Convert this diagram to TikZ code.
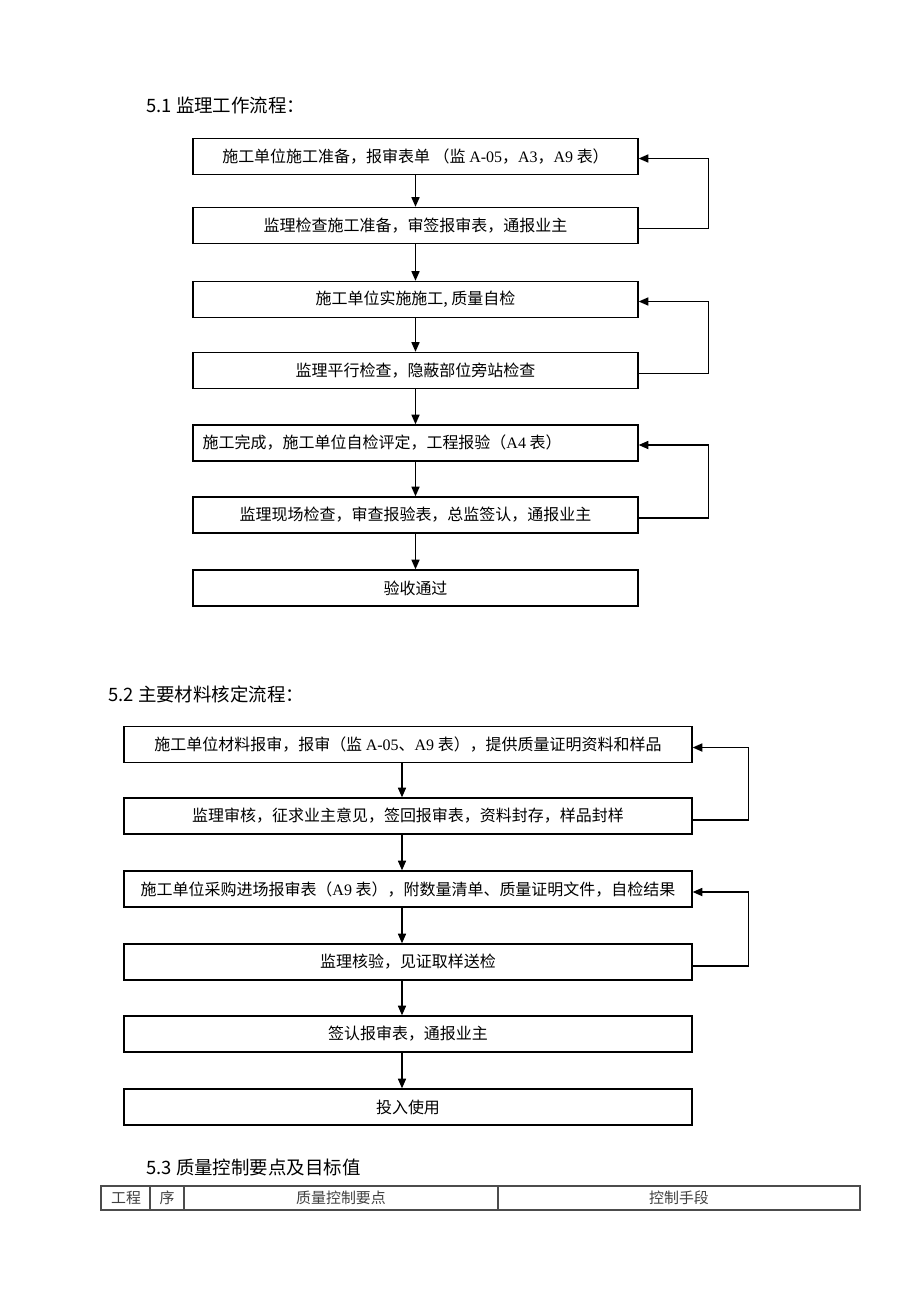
\documentclass[tikz,border=0pt]{standalone}
\usepackage{fontspec}
\setmainfont{Liberation Serif}
\newfontfamily\cjk{Noto Sans CJK SC}
\usetikzlibrary{arrows.meta, calc}

% latin parts of the labels
\newcommand{\lat}[1]{{\rmfamily #1}}

\begin{document}
\begin{tikzpicture}[x=0.02cm, y=-0.02cm,
  every node/.style = {font=\cjk\fontsize{9.1pt}{11pt}\selectfont, inner sep=0pt},
  head/.style = {anchor=west, font=\cjk\fontsize{10.5pt}{12pt}\selectfont},
  boxa/.style = {draw, line width=0.8pt, minimum width=8.9cm, minimum height=0.72cm},
  boxb/.style = {draw, line width=0.8pt, minimum width=11.36cm, minimum height=0.72cm},
  flow/.style = {line width=0.8pt, -{Triangle[length=5.5pt, width=4.6pt]}},
  cell/.style = {font=\cjk\fontsize{8.5pt}{10pt}\selectfont, text=black!75}]
  \useasboundingbox (0,0) rectangle (920,1302);

  % 5.1
  \node[head] (h1) at (146,105) {5.1 监理工作流程：};
  \node[boxa] (a1) at (415.5,156.5) {施工单位施工准备，报审表单 （监 \lat{A-05}，\lat{A3}，\lat{A9} 表）};
  \node[boxa] (a2) at (415.5,225.5) {监理检查施工准备，审签报审表，通报业主};
  \node[boxa] (a3) at (415.5,299.5) {施工单位实施施工, 质量自检};
  \node[boxa] (a4) at (415.5,370.5) {监理平行检查，隐蔽部位旁站检查};
  \node[boxa] (a5) at (415.5,443) {\hspace*{-38pt}施工完成，施工单位自检评定，工程报验（\lat{A4} 表）};
  \node[boxa] (a6) at (415.5,515) {监理现场检查，审查报验表，总监签认，通报业主};
  \node[boxa] (a7) at (415.5,588) {验收通过};

  \foreach \i/\j in {a1/a2, a2/a3, a3/a4, a4/a5, a5/a6, a6/a7}
    \draw[flow] (\i) -- (\j);

  \foreach \i/\j in {a2/a1, a4/a3, a6/a5}
    \draw[flow] ($(\i.east)+(0,3)$) -- ++(70,0) |- ($(\j.east)+(0,2)$);

  % 5.2
  \node[head] (h2) at (108,694) {5.2 主要材料核定流程：};
  \node[boxb] (b1) at (408,744.5) {施工单位材料报审，报审（监 \lat{A-05}、\lat{A9} 表），提供质量证明资料和样品};
  \node[boxb] (b2) at (408,816) {监理审核，征求业主意见，签回报审表，资料封存，样品封样};
  \node[boxb] (b3) at (408,889) {施工单位采购进场报审表（\lat{A9} 表），附数量清单、质量证明文件，自检结果};
  \node[boxb] (b4) at (408,962) {监理核验，见证取样送检};
  \node[boxb] (b5) at (408,1034) {签认报审表，通报业主};
  \node[boxb] (b6) at (408,1107) {投入使用};

  \foreach \i/\j in {b1/b2, b2/b3, b3/b4, b4/b5, b5/b6}
    \draw[flow] ($(\i.south)+(-6,0)$) -- ($(\j.north)+(-6,0)$);

  \foreach \i/\j in {b2/b1, b4/b3}
    \draw[flow] ($(\i.east)+(0,4)$) -- ++(56,0) |- ($(\j.east)+(0,3)$);

  % 5.3
  \node[head] (h3) at (146,1167) {5.3 质量控制要点及目标值};
  \draw[black!70, line width=0.8pt] (101,1186) rectangle (860,1210)
    (150,1186) -- (150,1210) (184,1186) -- (184,1210) (498,1186) -- (498,1210);
  \node[cell] (t1) at (126,1198) {工程};
  \node[cell] (t2) at (167,1198) {序};
  \node[cell] (t3) at (341,1198) {质量控制要点};
  \node[cell] (t4) at (679,1198) {控制手段};
\end{tikzpicture}
\end{document}
